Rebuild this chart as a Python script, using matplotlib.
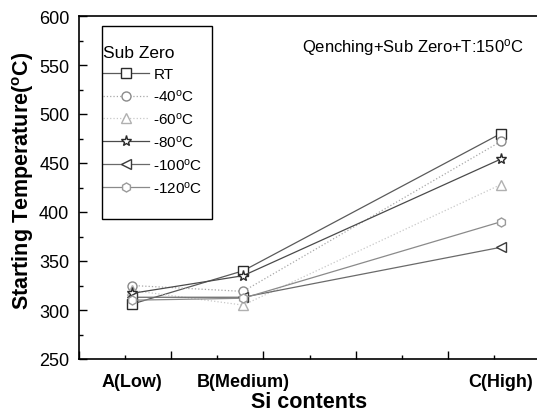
import matplotlib
matplotlib.use('Agg')
from matplotlib import pyplot as plt
from matplotlib.patches import Rectangle
from matplotlib.ticker import MultipleLocator
import matplotlib.transforms as mtransforms

plt.rcParams['font.family'] = ['Liberation Sans', 'DejaVu Sans']
plt.rcParams['mathtext.fontset'] = 'custom'
plt.rcParams['mathtext.rm'] = 'Liberation Sans'
plt.rcParams['mathtext.it'] = 'Liberation Sans'
plt.rcParams['mathtext.bf'] = 'Liberation Sans:bold'

# Si content levels and their positions on the (unlabelled) numeric x axis
categories = ['A(Low)', 'B(Medium)', 'C(High)']
x_pos = [1.15, 3.56, 9.15]

series_names = ['RT', '-40$^{o}$C', '-60$^{o}$C', '-80$^{o}$C', '-100$^{o}$C', '-120$^{o}$C']
rt = [306, 340, 480]
m40 = [325, 319, 472]
m60 = [320, 305, 428]
m80 = [317, 335, 454]
m100 = [313, 313, 364]
m120 = [310, 312, 390]
series_values = [rt, m40, m60, m80, m100, m120]

markers = ['s', 'o', '^', '*', '<', 'h']
line_colors = ['#5a5a5a', '#a8a8a8', '#c8c8c8', '#4a4a4a', '#6a6a6a', '#8a8a8a']
edge_colors = ['#2a2a2a', '#8a8a8a', '#b0b0b0', '#2a2a2a', '#3a3a3a', '#9a9a9a']
styles = ['-', ':', ':', '-', '-', '-']

fig = plt.figure(figsize=(5.37, 4.14), dpi=100)
ax = fig.add_axes([79 / 537, 54 / 414, 461 / 537, 343 / 414])

for name, vals, mk, lc, ec, ls in zip(series_names, series_values, markers,
                                       line_colors, edge_colors, styles):
    ax.plot(x_pos, vals, linestyle=ls, color=lc, linewidth=0.9,
            marker=mk, markersize=8 if mk == '*' else 6.5,
            markerfacecolor='white', markeredgecolor=ec, markeredgewidth=1.0,
            label=name)

ax.set_xlim(0, 10)
ax.set_ylim(250, 600)
ax.xaxis.set_major_locator(MultipleLocator(2))
ax.xaxis.set_minor_locator(MultipleLocator(1))
ax.yaxis.set_major_locator(MultipleLocator(50))
ax.yaxis.set_minor_locator(MultipleLocator(25))
ax.set_xticklabels([])
ax.tick_params(which='major', direction='in', length=6, width=1, labelsize=13, pad=7)
ax.tick_params(which='minor', direction='in', length=3, width=1)
ax.tick_params(top=False, right=False, which='both')
for s in ax.spines.values():
    s.set_linewidth(1.2)

# category labels under their data points
trans = mtransforms.blended_transform_factory(ax.transData, ax.transAxes)
for xp, lab in zip(x_pos, categories):
    ax.text(xp, -0.04, lab, transform=trans, ha='center', va='top',
            fontsize=13, fontweight='bold')

ax.set_xlabel('Si contents', fontsize=15.5, fontweight='bold', labelpad=16)
ax.set_ylabel(r'Starting Temperature($^{\mathbf{o}}$C)', fontsize=15.5,
              fontweight='bold')
ax.yaxis.set_label_coords(-0.094, 0.522)

ax.text(0.484, 0.898, 'Qenching+Sub Zero+T:150$^{o}$C', transform=ax.transAxes,
        fontsize=12, va='baseline', ha='left')

# legend without its own frame; box drawn separately to match the taller frame
leg = ax.legend(title='Sub Zero', loc='upper left',
                bbox_to_anchor=(0.052, 0.915), fontsize=11, title_fontsize=12.5,
                frameon=False, handlelength=3.0, handletextpad=0.3,
                labelspacing=0.45, borderpad=0, borderaxespad=0)
leg._legend_box.align = 'left'
ax.add_patch(Rectangle((0.0499, 0.408), 0.2386, 0.5628, transform=ax.transAxes,
                       fill=False, edgecolor='black', linewidth=1.0, zorder=6))

fig.savefig('out.png', dpi=100)
